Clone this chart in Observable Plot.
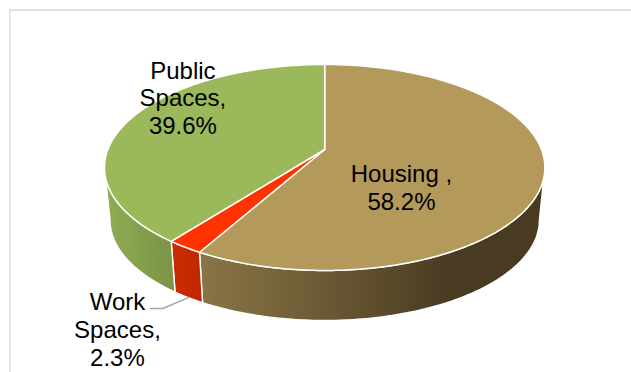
<!DOCTYPE html>
<html>
<head>
<meta charset="utf-8">
<style>html,body{margin:0;padding:0;background:#fff;overflow:hidden}svg{display:block}</style>
<script src="https://cdn.jsdelivr.net/npm/d3@7"></script>
<script src="https://cdn.jsdelivr.net/npm/@observablehq/plot@0.6"></script>
</head>
<body>
<script>
// Data
const categories = ["Housing", "Work Spaces", "Public Spaces"];
const shares = [58.2, 2.3, 39.6];
const labels = ["Housing ,\n58.2%", "Work\nSpaces,\n2.3%", "Public\nSpaces,\n39.6%"];

// Styling
const topColors = ["#b39a5a", "#ff3300", "#9bb95a"];
const sideFills = ["url(#sideHousing)", "url(#sideWork)", "url(#sidePublic)"];

// Layout, in projected disc units
const labelX = [0.354, -0.956, -0.654];
const labelY = [0.38, 1.80, -0.52];
const leaderX = [-0.804, -0.747];
const leaderY = [1.592, 1.592];
const tilt = -0.1748;      // perspective of the disc
const depth = 0.531;       // height of the cylinder wall
const baseScale = 0.975;   // base rim is slightly smaller than the top rim

const total = d3.sum(shares);
const project = (turn, scale = 1, drop = 0) => {
  const a = turn * 2 * Math.PI, u = Math.sin(a), v = -Math.cos(a), w = 1 + tilt * v;
  return {x: scale * u / w, y: drop + scale * v / w};
};
const arc = (t0, t1, scale, drop) => {
  const n = Math.max(4, Math.ceil((t1 - t0) * 360));
  return d3.range(n + 1).map(i => project(t0 + (t1 - t0) * i / n, scale, drop));
};
// Turn at which the rim reaches its widest point: the wall's silhouette starts there
const silhouette = Math.acos(tilt) / (2 * Math.PI);

let running = 0;
const slices = shares.map((s, i) => {
  const t0 = running / total; running += s; const t1 = running / total;
  const w0 = Math.max(t0, silhouette), w1 = Math.min(t1, 1 - silhouette);
  return {
    name: categories[i], t0, t1,
    face: [{x: 0, y: 0}, ...arc(t0, t1, 1, 0), {x: 0, y: 0}],
    wall: [...arc(w0, w1, 1, 0), ...arc(w0, w1, baseScale, depth).reverse(), project(w0, 1, 0)]
  };
});

const marks = [
  Plot.frame({anchor: "left", stroke: "#d9d9d9", strokeWidth: 1.3, strokeOpacity: 1}),
  Plot.frame({anchor: "top", stroke: "#d9d9d9", strokeWidth: 1.3, strokeOpacity: 1})
];
slices.forEach((s, i) => marks.push(Plot.line(s.wall, {
  x: "x", y: "y", fill: sideFills[i], stroke: "#fff", strokeWidth: 1.4
})));
slices.forEach((s, i) => marks.push(Plot.line(s.face, {
  x: "x", y: "y", fill: topColors[i], stroke: "#fff", strokeWidth: 1.5
})));
const workMid = project((slices[1].t0 + slices[1].t1) / 2, baseScale, depth);
marks.push(Plot.line([
  {x: leaderX[0], y: leaderY[0]}, {x: leaderX[1], y: leaderY[1]}, workMid
], {x: "x", y: "y", stroke: "#a6a6a6", strokeWidth: 1.5}));
marks.push(Plot.text(labels, {
  x: (d, i) => labelX[i], y: (d, i) => labelY[i], text: d => d,
  fontSize: 24, lineHeight: 1.16, fill: "#000", textAnchor: "middle"
}));

const cx = 324.2, cy = 149, rx = 216.8, ry = 99.85;
const chart = Plot.plot({
  width: 631, height: 372,
  marginLeft: 9.5, marginTop: 9.5, marginRight: 0, marginBottom: 0,
  style: {fontFamily: "'Liberation Sans', Arial, sans-serif", background: "#fff"},
  x: {domain: [-1, 1], range: [cx - rx, cx + rx], axis: null},
  y: {domain: [-1, 1], range: [cy - ry, cy + ry], axis: null},
  marks
});
chart.insertAdjacentHTML("afterbegin", `<defs>
<linearGradient id="sideHousing" gradientUnits="userSpaceOnUse" x1="199" x2="450" y1="0" y2="0">
<stop offset="0" stop-color="#8a7545"/><stop offset="0.5" stop-color="#6a5935"/><stop offset="1" stop-color="#493b22"/></linearGradient>
<linearGradient id="sideWork" gradientUnits="userSpaceOnUse" x1="171" x2="199" y1="0" y2="0">
<stop offset="0" stop-color="#cc2c00"/><stop offset="1" stop-color="#bf2900"/></linearGradient>
<linearGradient id="sidePublic" gradientUnits="userSpaceOnUse" x1="107" x2="172" y1="0" y2="0">
<stop offset="0" stop-color="#90ab53"/><stop offset="1" stop-color="#7b9446"/></linearGradient>
</defs>`);
document.body.appendChild(chart);
</script>
</body>
</html>
